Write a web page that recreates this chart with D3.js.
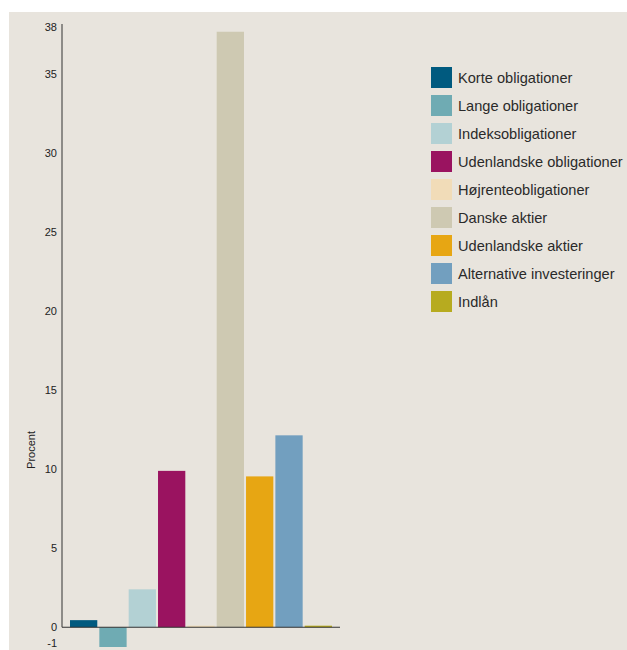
<!DOCTYPE html>
<html>
<head>
<meta charset="utf-8">
<script src="https://cdn.jsdelivr.net/npm/d3@7"></script>
<style>
  body { margin: 0; background: #fff; }
  svg { font-family: "Liberation Sans", Arial, sans-serif; }
</style>
</head>
<body>
<svg width="627" height="650"></svg>
<script>
// categories, values (procent) and colours
var categories = ['Korte obligationer', 'Lange obligationer', 'Indeksobligationer',
    'Udenlandske obligationer', 'Højrenteobligationer', 'Danske aktier',
    'Udenlandske aktier', 'Alternative investeringer', 'Indlån'];
var values = [0.45, -1.25, 2.4, 9.9, 0.1, 37.7, 9.55, 12.15, 0.1];
var colors = ['#005a7f', '#6fabb3', '#b3d1d4', '#9a1360', '#f1dcb8',
    '#cec9b2', '#e7a613', '#729fbf', '#b7ab1f'];
var tickValues = [-1, 0, 5, 10, 15, 20, 25, 30, 35, 38];

var svg = d3.select('svg');

svg.append('rect')
    .attr('x', 9).attr('y', 12)
    .attr('width', 618).attr('height', 638)
    .style('fill', '#e8e4dd');

var x = d3.scaleBand()
    .domain(categories)
    .range([70, 332])
    .paddingInner(0.07)
    .paddingOuter(0);

var y = d3.scaleLinear()
    .domain([-1.25, 38])
    .range([647, 27]);

// bars
svg.selectAll('rect.bar')
    .data(values)
    .enter().append('rect')
    .attr('class', 'bar')
    .attr('x', function(d, i){ return x(categories[i]); })
    .attr('width', x.bandwidth())
    .attr('y', function(d){ return d >= 0 ? y(d) : y(0); })
    .attr('height', function(d){ return Math.abs(y(d) - y(0)); })
    .style('fill', function(d, i){ return colors[i]; });

// y axis
var yAxis = svg.append('g')
    .attr('transform', 'translate(62,0)')
    .call(d3.axisLeft(y).tickValues(tickValues).tickSize(0).tickPadding(5)
        .tickFormat(function(d){ return String(d); }));
yAxis.select('.domain').remove();
yAxis.selectAll('text')
    .style('font-size', '11px')
    .style('fill', '#222');

svg.append('line')
    .attr('x1', 62).attr('x2', 62)
    .attr('y1', 24).attr('y2', y(0))
    .style('stroke', '#333').style('stroke-width', 1);

svg.append('line')
    .attr('x1', 62).attr('x2', 340)
    .attr('y1', y(0)).attr('y2', y(0))
    .style('stroke', '#333').style('stroke-width', 1.2);

svg.append('text')
    .attr('transform', 'translate(35,450) rotate(-90)')
    .attr('text-anchor', 'middle')
    .style('font-size', '11px')
    .style('fill', '#222')
    .text('Procent');

// legend
var legend = svg.selectAll('g.leg')
    .data(categories)
    .enter().append('g')
    .attr('class', 'leg')
    .attr('transform', function(d, i){ return 'translate(431,' + (67 + i * 28) + ')'; });

legend.append('rect')
    .attr('width', 21).attr('height', 21)
    .style('fill', function(d, i){ return colors[i]; });

legend.append('text')
    .attr('x', 27).attr('y', 15.5)
    .style('font-size', '14.6px')
    .style('fill', '#2a2a2a')
    .text(function(d){ return d; });
</script>
</body>
</html>
